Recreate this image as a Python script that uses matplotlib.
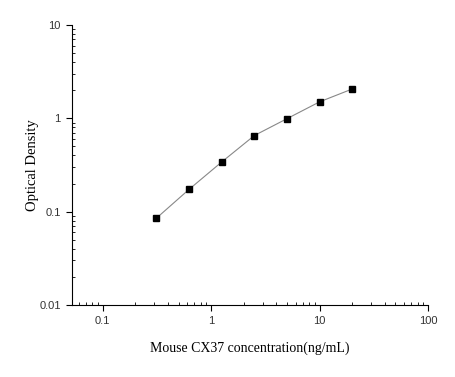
import matplotlib
matplotlib.use('Agg')
import matplotlib.pyplot as plt
from matplotlib.ticker import LogLocator, FixedFormatter, FixedLocator, NullFormatter

# standard curve
conc = [0.3125, 0.625, 1.25, 2.5, 5, 10, 20]
od = [0.085, 0.173, 0.34, 0.653, 0.99, 1.50, 2.06]

x_ticks = [0.1, 1, 10, 100]
x_labels = ['0.1', '1', '10', '100']
y_ticks = [0.01, 0.1, 1, 10]
y_labels = ['0.01', '0.1', '1', '10']

plt.rcParams['font.family'] = ['Liberation Serif', 'DejaVu Serif']

fig = plt.figure(figsize=(4.55, 3.77), dpi=100)
ax = fig.add_axes([0.158, 0.191, 0.783, 0.743])

ax.plot(conc, od, color='#888888', linewidth=0.8, zorder=1)
ax.plot(conc, od, linestyle='none', marker='s', markersize=4,
        color='black', zorder=2)

ax.set_xscale('log')
ax.set_yscale('log')
ax.set_xlim(0.052, 100)
ax.set_ylim(0.01, 10)

ax.xaxis.set_major_locator(FixedLocator(x_ticks))
ax.xaxis.set_major_formatter(FixedFormatter(x_labels))
ax.yaxis.set_major_locator(FixedLocator(y_ticks))
ax.yaxis.set_major_formatter(FixedFormatter(y_labels))
ax.xaxis.set_minor_locator(LogLocator(base=10, subs=range(2, 10), numticks=20))
ax.yaxis.set_minor_locator(LogLocator(base=10, subs=range(2, 10), numticks=20))
ax.xaxis.set_minor_formatter(NullFormatter())
ax.yaxis.set_minor_formatter(NullFormatter())

ax.spines['top'].set_visible(False)
ax.spines['right'].set_visible(False)
for s in ['left', 'bottom']:
    ax.spines[s].set_linewidth(0.8)

ax.tick_params(which='major', direction='out', length=4, width=0.8,
               labelsize=8, pad=4)
ax.tick_params(which='minor', direction='in', length=2, width=0.6)
for lab in ax.get_xticklabels() + ax.get_yticklabels():
    lab.set_family(['Liberation Sans', 'DejaVu Sans'])
    lab.set_color('#333333')

ax.set_xlabel('Mouse CX37 concentration(ng/mL)', fontsize=10, va='center')
ax.set_ylabel('Optical Density', fontsize=10.5, va='center')
ax.xaxis.set_label_coords(0.5, -0.155)
ax.yaxis.set_label_coords(-0.11, 0.5)

fig.savefig('out.png', dpi=100, facecolor='white')
